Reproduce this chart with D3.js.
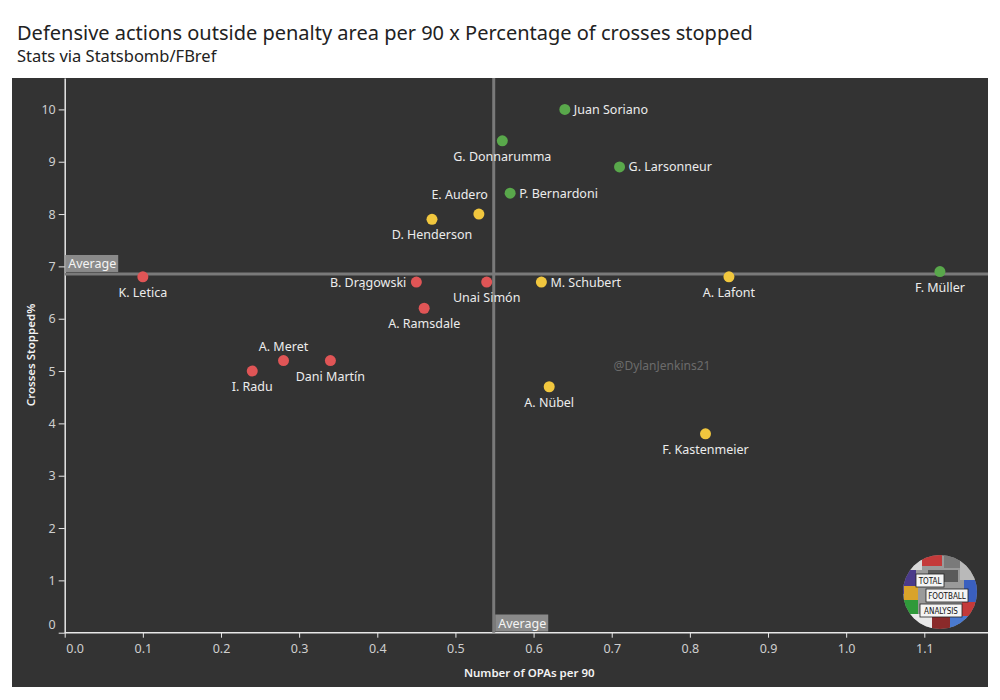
<!DOCTYPE html>
<html>
<head>
<meta charset="utf-8">
<script src="https://cdn.jsdelivr.net/npm/d3@7"></script>
<style>
body{margin:0;background:#fff;}
svg{display:block;font-family:"Noto Sans","Open Sans",sans-serif;}
</style>
</head>
<body>
<svg id="chart" width="1000" height="700"></svg>
<script>
const players = ["Juan Soriano","G. Donnarumma","G. Larsonneur","P. Bernardoni","E. Audero","D. Henderson","K. Letica","B. Drągowski","Unai Simón","A. Ramsdale","M. Schubert","A. Lafont","F. Müller","A. Meret","Dani Martín","I. Radu","A. Nübel","F. Kastenmeier"];
const opas = [0.64,0.56,0.71,0.57,0.53,0.47,0.10,0.45,0.54,0.46,0.61,0.85,1.12,0.28,0.34,0.24,0.62,0.82];
const crossesStopped = [10.0,9.4,8.9,8.4,8.0,7.9,6.8,6.7,6.7,6.2,6.7,6.8,6.9,5.2,5.2,5.0,4.7,3.8];
const group = ["high","high","high","high","mid","mid","low","low","low","low","mid","mid","high","low","low","low","mid","mid"];
const labelSide = ["right","below","right","right","aboveleft","below","below","left","below","below","right","below","below","above","below","below","below","below"];
const xTicks = [0,0.1,0.2,0.3,0.4,0.5,0.6,0.7,0.8,0.9,1.0,1.1];
const yTicks = [0,1,2,3,4,5,6,7,8,9,10];
const avgX = 0.549;
const avgY = 6.855;

const colors = {high:"#59a84b", mid:"#f1c73e", low:"#e05556"};

const svg = d3.select("#chart");
// titles
svg.append("text").attr("x",17).attr("y",40).attr("font-size",20).attr("fill","#222")
  .text("Defensive actions outside penalty area per 90 x Percentage of crosses stopped");
svg.append("text").attr("x",17).attr("y",62).attr("font-size",16.5).attr("fill","#222")
  .text("Stats via Statsbomb/FBref");

// panel
svg.append("rect").attr("x",12).attr("y",78).attr("width",976).attr("height",609).attr("fill","#333333");

const x = d3.scaleLinear().domain([0,1.1815]).range([64.7,988]);
const y = d3.scaleLinear().domain([0,10.6]).range([632.7,78]);

// axes
const yAxis = svg.append("g").attr("transform","translate(64.7,0)")
  .call(d3.axisLeft(y).tickValues(yTicks).tickFormat(d3.format("d")).tickSize(6).tickSizeOuter(0));
const xAxis = svg.append("g").attr("transform","translate(0,632.7)")
  .call(d3.axisBottom(x).tickValues(xTicks).tickFormat(d3.format(".1f")).tickSize(5).tickSizeOuter(0));
[yAxis,xAxis].forEach(g=>{
  g.select(".domain").attr("stroke","#e8e8e8").attr("stroke-width",1.5);
  g.selectAll(".tick line").attr("stroke","#e8e8e8");
  g.selectAll(".tick text").attr("fill","#cfcfcf").attr("font-size",12.5).attr("font-family","Noto Sans, sans-serif");
});
yAxis.selectAll(".tick text").attr("x",-9);
yAxis.selectAll(".tick").filter(d=>d===0).select("text").attr("dy","-0.35em");
xAxis.selectAll(".tick text").attr("y",11);
xAxis.selectAll(".tick").filter(d=>d===0).select("text").attr("x",10);
xAxis.select(".domain").attr("d",`M${x(0)},0H988`);

// axis titles
svg.append("text").attr("x",x(0.5945)).attr("y",677).attr("text-anchor","middle")
  .attr("font-size",11.5).attr("font-weight","600").attr("fill","#f2f2f2").text("Number of OPAs per 90");
svg.append("text").attr("transform","translate(35,355) rotate(-90)").attr("text-anchor","middle")
  .attr("font-size",11.5).attr("font-weight","600").attr("fill","#f2f2f2").text("Crosses Stopped%");

// average lines
svg.append("line").attr("x1",x(avgX)).attr("x2",x(avgX)).attr("y1",78).attr("y2",632.7)
  .attr("stroke","#7a7a7a").attr("stroke-width",3);
svg.append("line").attr("x1",x(0)).attr("x2",988).attr("y1",y(avgY)).attr("y2",y(avgY))
  .attr("stroke","#7a7a7a").attr("stroke-width",3);

// average labels
function avgLabel(bx,by){
  const g = svg.append("g");
  g.append("rect").attr("x",bx).attr("y",by).attr("width",53).attr("height",17).attr("fill","#8a8a8a");
  g.append("text").attr("x",bx+3).attr("y",by+13).attr("font-size",12.5).attr("fill","#f4f4f4").text("Average");
}
avgLabel(x(0)+0.5, y(avgY)-19);
avgLabel(x(avgX)+1.5, 614.5);

// watermark
svg.append("text").attr("x",662).attr("y",370).attr("text-anchor","middle").attr("font-size",12)
  .attr("fill","#6b6b6b").text("@DylanJenkins21");

// points
const data = players.map((p,i)=>({name:p,x:opas[i],y:crossesStopped[i],g:group[i],side:labelSide[i]}));
svg.append("g").selectAll("circle").data(data).join("circle")
  .attr("cx",d=>x(d.x)).attr("cy",d=>y(d.y)).attr("r",5.5).attr("fill",d=>colors[d.g]);

svg.append("g").selectAll("text").data(data).join("text")
  .attr("font-size",12.5).attr("fill","#ececec")
  .attr("x",d=>{
    const cx = x(d.x);
    if(d.side==="right") return cx+9;
    if(d.side==="left") return cx-10;
    if(d.side==="aboveleft") return cx+9;
    return cx;
  })
  .attr("y",d=>{
    const cy = y(d.y);
    if(d.side==="below") return cy+20;
    if(d.side==="above") return cy-10;
    if(d.side==="aboveleft") return cy-15;
    return cy+4.5;
  })
  .attr("text-anchor",d=>d.side==="right"?"start":(d.side==="left"||d.side==="aboveleft")?"end":"middle")
  .text(d=>d.name);

// logo (decorative badge)
const lg = svg.append("g").attr("transform","translate(940,592)");
lg.append("clipPath").attr("id","logoclip").append("circle").attr("r",37);
const lc = lg.append("g").attr("clip-path","url(#logoclip)");
lc.append("rect").attr("x",-40).attr("y",-40).attr("width",80).attr("height",80).attr("fill","#9a9a9a");
const patches = [[-40,-40,22,18,"#d8d8d8"],[-18,-40,20,14,"#c43a3a"],[4,-40,20,16,"#7a7a7a"],[20,-34,20,22,"#b9b9b9"],
 [-40,-22,16,24,"#4a3a8a"],[-36,-6,14,14,"#d9a32a"],[-40,8,18,16,"#2f9a3a"],[24,-12,16,22,"#3a5fbf"],
 [22,10,18,16,"#c43a3a"],[-30,22,22,18,"#e9e9e9"],[-8,24,18,16,"#8a2a2a"],[10,24,20,16,"#4a7ad0"],[-12,-22,30,12,"#5a5a5a"]];
lc.selectAll("rect.p").data(patches).join("rect").attr("class","p")
  .attr("x",d=>d[0]).attr("y",d=>d[1]).attr("width",d=>d[2]).attr("height",d=>d[3]).attr("fill",d=>d[4]);
const boxes = [[-24,-18,28,13,"TOTAL"],[-14,-3,42,13,"FOOTBALL"],[-20,12,42,13,"ANALYSIS"]];
boxes.forEach(b=>{
  lc.append("rect").attr("x",b[0]).attr("y",b[1]).attr("width",b[2]).attr("height",b[3]).attr("fill","#f4f4f4").attr("stroke","#222").attr("stroke-width",0.8);
  lc.append("text").attr("x",b[0]+b[2]/2).attr("y",b[1]+10).attr("text-anchor","middle")
    .attr("font-size",8).attr("font-family","DejaVu Sans Condensed, sans-serif").attr("fill","#111").text(b[4]);
});
</script>
</body>
</html>
